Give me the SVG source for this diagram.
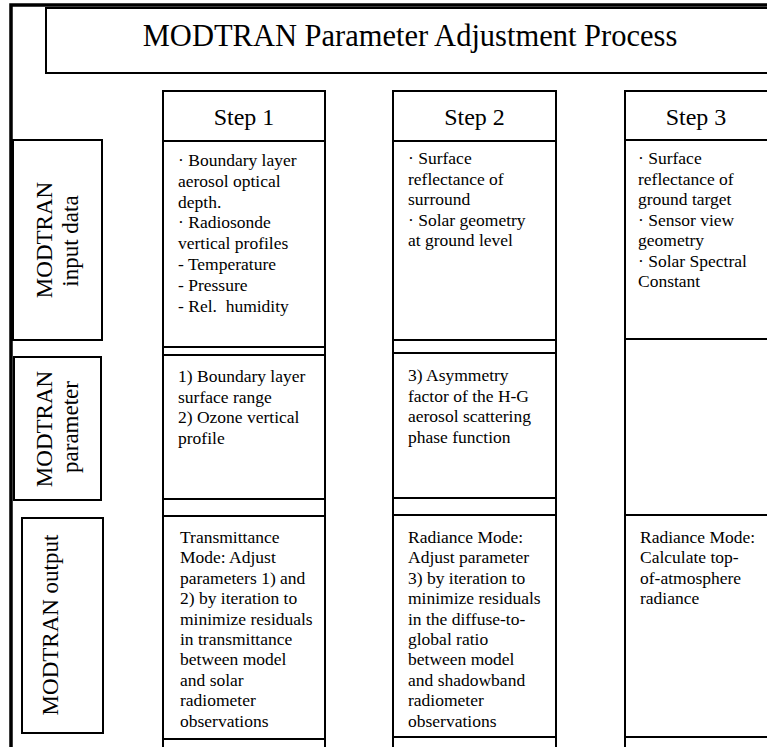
<svg xmlns="http://www.w3.org/2000/svg" width="767" height="747" viewBox="0 0 767 747">
<style>
.box{fill:#fff;stroke:#000;stroke-width:2}
.frame{fill:none;stroke:#000;stroke-width:3.5}
.ln{stroke:#000;stroke-width:2;fill:none}
text{font-family:"Liberation Serif","Times New Roman",serif;fill:#000}
.title{font-size:30.5px}
.step{font-size:24px}
.body{font-size:17.5px}
.lab{font-size:23px}
</style>
<rect width="767" height="747" fill="#fff"/>
<g id="frame">
<path class="frame" d="M11,747 V5 H767"/>
</g>
<g id="title">
<rect class="box" x="46" y="8" width="730" height="65"/>
<text class="title" x="410" y="46" text-anchor="middle">MODTRAN Parameter Adjustment Process</text>
</g>
<g id="label-input">
<rect class="box" x="13" y="140" width="89" height="200"/>
<text class="lab" transform="translate(52,240) rotate(-90)" text-anchor="middle">MODTRAN</text>
<text class="lab" transform="translate(78,241) rotate(-90)" text-anchor="middle">input data</text>
</g>
<g id="label-parameter">
<rect class="box" x="14" y="357" width="87" height="143"/>
<text class="lab" transform="translate(52,429) rotate(-90)" text-anchor="middle">MODTRAN</text>
<text class="lab" transform="translate(78,427) rotate(-90)" text-anchor="middle">parameter</text>
</g>
<g id="label-output">
<rect class="box" x="22" y="518" width="81" height="215"/>
<text class="lab" transform="translate(58,625) rotate(-90)" text-anchor="middle">MODTRAN output</text>
</g>
<g id="step1">
<rect class="box" x="163" y="91" width="162" height="50"/>
<text class="step" x="244" y="125" text-anchor="middle">Step 1</text>
<rect class="box" x="163" y="141" width="162" height="206"/>
<rect class="box" x="163" y="347" width="162" height="8"/>
<rect class="box" x="163" y="355" width="162" height="144"/>
<rect class="box" x="163" y="499" width="162" height="17"/>
<rect class="box" x="163" y="516" width="162" height="223"/>
<rect class="box" x="163" y="739" width="162" height="20"/>
<text class="body" x="178" y="166">
<tspan x="178">· Boundary layer</tspan>
<tspan x="178" dy="20.8">aerosol optical</tspan>
<tspan x="178" dy="20.8">depth.</tspan>
<tspan x="178" dy="20.8">· Radiosonde</tspan>
<tspan x="178" dy="20.8">vertical profiles</tspan>
<tspan x="178" dy="20.8">- Temperature</tspan>
<tspan x="178" dy="20.8">- Pressure</tspan>
<tspan x="178" dy="20.8" xml:space="preserve">- Rel.  humidity</tspan>
</text>
<text class="body" x="178" y="382">
<tspan x="178">1) Boundary layer</tspan>
<tspan x="178" dy="20.5">surface range</tspan>
<tspan x="178" dy="20.5">2) Ozone vertical</tspan>
<tspan x="178" dy="20.5">profile</tspan>
</text>
<text class="body" x="180" y="543">
<tspan x="180">Transmittance</tspan>
<tspan x="180" dy="20.4">Mode: Adjust</tspan>
<tspan x="180" dy="20.4">parameters 1) and</tspan>
<tspan x="180" dy="20.4">2) by iteration to</tspan>
<tspan x="180" dy="20.4">minimize residuals</tspan>
<tspan x="180" dy="20.4">in transmittance</tspan>
<tspan x="180" dy="20.4">between model</tspan>
<tspan x="180" dy="20.4">and solar</tspan>
<tspan x="180" dy="20.4">radiometer</tspan>
<tspan x="180" dy="20.4">observations</tspan>
</text>
</g>
<g id="step2">
<rect class="box" x="393" y="91" width="163" height="50"/>
<text class="step" x="474.5" y="125" text-anchor="middle">Step 2</text>
<rect class="box" x="393" y="141" width="163" height="199"/>
<rect class="box" x="393" y="340" width="163" height="13"/>
<rect class="box" x="393" y="353" width="163" height="145"/>
<rect class="box" x="393" y="498" width="163" height="17"/>
<rect class="box" x="393" y="515" width="163" height="222"/>
<rect class="box" x="393" y="737" width="163" height="20"/>
<text class="body" x="408" y="164">
<tspan x="408">· Surface</tspan>
<tspan x="408" dy="20.5">reflectance of</tspan>
<tspan x="408" dy="20.5">surround</tspan>
<tspan x="408" dy="20.5">· Solar geometry</tspan>
<tspan x="408" dy="20.5">at ground level</tspan>
</text>
<text class="body" x="408" y="381">
<tspan x="408">3) Asymmetry</tspan>
<tspan x="408" dy="20.5">factor of the H-G</tspan>
<tspan x="408" dy="20.5">aerosol scattering</tspan>
<tspan x="408" dy="20.5">phase function</tspan>
</text>
<text class="body" x="408" y="543">
<tspan x="408">Radiance Mode:</tspan>
<tspan x="408" dy="20.4">Adjust parameter</tspan>
<tspan x="408" dy="20.4">3) by iteration to</tspan>
<tspan x="408" dy="20.4">minimize residuals</tspan>
<tspan x="408" dy="20.4">in the diffuse-to-</tspan>
<tspan x="408" dy="20.4">global ratio</tspan>
<tspan x="408" dy="20.4">between model</tspan>
<tspan x="408" dy="20.4">and shadowband</tspan>
<tspan x="408" dy="20.4">radiometer</tspan>
<tspan x="408" dy="20.4">observations</tspan>
</text>
</g>
<g id="step3">
<rect class="box" x="625" y="91" width="160" height="49"/>
<text class="step" x="696" y="125" text-anchor="middle">Step 3</text>
<rect class="box" x="625" y="140" width="160" height="199"/>
<rect class="box" x="625" y="339" width="160" height="176"/>
<rect class="box" x="625" y="515" width="160" height="222"/>
<rect class="box" x="625" y="737" width="160" height="20"/>
<text class="body" x="638" y="164">
<tspan x="638">· Surface</tspan>
<tspan x="638" dy="20.5">reflectance of</tspan>
<tspan x="638" dy="20.5">ground target</tspan>
<tspan x="638" dy="20.5">· Sensor view</tspan>
<tspan x="638" dy="20.5">geometry</tspan>
<tspan x="638" dy="20.5">· Solar Spectral</tspan>
<tspan x="638" dy="20.5">Constant</tspan>
</text>
<text class="body" x="640" y="543">
<tspan x="640">Radiance Mode:</tspan>
<tspan x="640" dy="20.4">Calculate top-</tspan>
<tspan x="640" dy="20.4">of-atmosphere</tspan>
<tspan x="640" dy="20.4">radiance</tspan>
</text>
</g>
<g id="connectors"></g>
</svg>
